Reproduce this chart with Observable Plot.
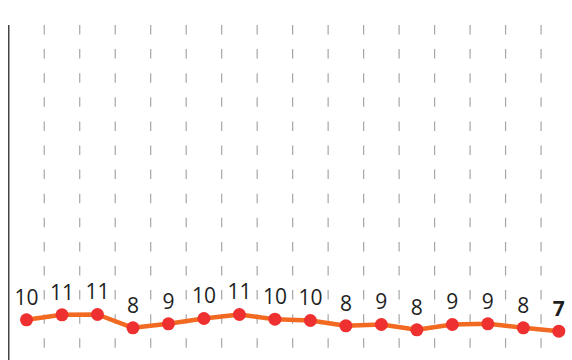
<!DOCTYPE html>
<html>
<head>
<meta charset="utf-8">
<script src="https://cdn.jsdelivr.net/npm/d3@7"></script>
<script src="https://cdn.jsdelivr.net/npm/@observablehq/plot@0.6"></script>
<style>
  html, body { margin: 0; padding: 0; background: #fff; }
  #chart svg { display: block; }
</style>
</head>
<body>
<div id="chart"></div>
<script>
// Values (displayed labels are the rounded values)
const values = [9.86, 11.02, 11.09, 8.0, 8.93, 10.16, 11.09, 10.0, 9.7, 8.47, 8.77, 7.53, 8.77, 8.93, 8.0, 7.21];
const labels = ["10", "11", "11", "8", "9", "10", "11", "10", "10", "8", "9", "8", "9", "9", "8", "7"];

const data = values.map((v, i) => ({i, v, label: labels[i]}));
const lastIndex = values.length - 1;
const gridX = d3.range(values.length - 1).map(i => i + 0.5);

const textStyle = {
  x: "i", y: "v", text: "label", dy: -22,
  fill: "#1e1e1e", fontSize: 21,
  fontFamily: "'Open Sans', sans-serif",
  letterSpacing: "-1px"
};

const chart = Plot.plot({
  width: 572,
  height: 360,
  marginTop: 25,
  marginBottom: 0,
  marginLeft: 0,
  marginRight: 0,
  x: {domain: [0, values.length - 1], range: [26, 558.3], axis: null},
  y: {domain: [0, 78], range: [361.7, 361.7 - 78 * 4.3], axis: null},
  marks: [
    Plot.ruleX(gridX, {stroke: "#a6a6a6", strokeWidth: 1.2, strokeDasharray: "9.5,14.6"}),
    Plot.ruleX([-0.5], {stroke: "#444", strokeWidth: 1.5}),
    Plot.line(data, {x: "i", y: "v", stroke: "#f26a22", strokeWidth: 4.5}),
    Plot.dot(data, {x: "i", y: "v", r: 6.5, fill: "#ee3030", stroke: "none"}),
    Plot.text(data.filter(d => d.i !== lastIndex), {...textStyle, fontWeight: 500}),
    Plot.text(data.filter(d => d.i === lastIndex), {...textStyle, fontWeight: 700})
  ]
});
document.getElementById("chart").appendChild(chart);
</script>
</body>
</html>
